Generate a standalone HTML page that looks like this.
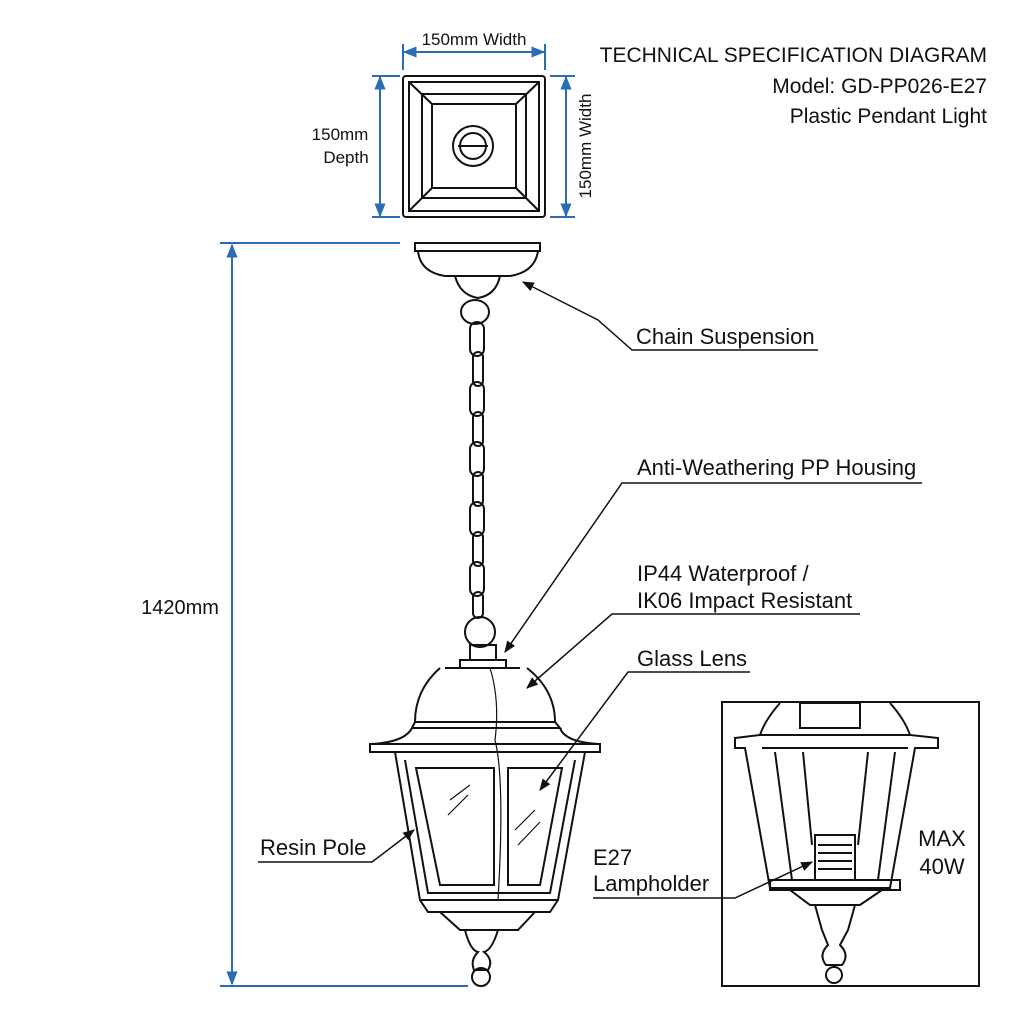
<!DOCTYPE html>
<html><head><meta charset="utf-8"><style>
body{margin:0;background:#fff}
svg{display:block}
text{font-family:"Liberation Sans",sans-serif;fill:#111}
</style></head><body>
<svg width="1024" height="1024" viewBox="0 0 1024 1024" xmlns="http://www.w3.org/2000/svg">
<defs>
<marker id="ab" viewBox="0 0 10 10" refX="9" refY="5" markerWidth="7" markerHeight="7" orient="auto-start-reverse"><path d="M0,1 L10,5 L0,9 z" fill="#2a6db5"/></marker>
<marker id="ak" viewBox="0 0 10 10" refX="9" refY="5" markerWidth="8" markerHeight="8" orient="auto"><path d="M0,1 L10,5 L0,9 z" fill="#111"/></marker>
</defs>
<!-- title -->
<text x="987" y="62" font-size="21" text-anchor="end">TECHNICAL SPECIFICATION DIAGRAM</text>
<text x="987" y="93" font-size="21" text-anchor="end">Model: GD-PP026-E27</text>
<text x="987" y="123" font-size="21" text-anchor="end">Plastic Pendant Light</text>

<!-- top plate -->
<g fill="none" stroke="#111" stroke-width="2">
<rect x="403" y="76" width="142" height="141" rx="3"/>
<rect x="409" y="82" width="130" height="129"/>
<rect x="422" y="94" width="104" height="104"/>
<rect x="432" y="104" width="84" height="84"/>
<path d="M409 82 L432 104 M539 82 L516 104 M409 211 L432 188 M539 211 L516 188"/>
<circle cx="473" cy="146" r="20"/><circle cx="473" cy="146" r="13"/>
<path d="M458 146 H488"/>
</g>
<!-- blue dims -->
<g stroke="#2a6db5" stroke-width="2" fill="none">
<line x1="404" y1="52" x2="544" y2="52" marker-start="url(#ab)" marker-end="url(#ab)"/>
<line x1="403" y1="44" x2="403" y2="70" /><line x1="545" y1="44" x2="545" y2="70"/>
<line x1="380" y1="77" x2="380" y2="216" marker-start="url(#ab)" marker-end="url(#ab)"/>
<line x1="372" y1="76" x2="400" y2="76"/><line x1="372" y1="217" x2="400" y2="217"/>
<line x1="566" y1="77" x2="566" y2="216" marker-start="url(#ab)" marker-end="url(#ab)"/>
<line x1="550" y1="76" x2="575" y2="76"/><line x1="550" y1="217" x2="575" y2="217"/>
<line x1="232" y1="245" x2="232" y2="984" marker-start="url(#ab)" marker-end="url(#ab)"/>
<line x1="220" y1="243" x2="400" y2="243"/><line x1="220" y1="986" x2="468" y2="986"/>
</g>
<text x="474" y="45" font-size="17" text-anchor="middle">150mm Width</text>
<text x="340" y="140" font-size="17" text-anchor="middle">150mm</text>
<text x="346" y="163" font-size="17" text-anchor="middle">Depth</text>
<text transform="translate(591,146) rotate(-90)" font-size="17" text-anchor="middle">150mm Width</text>
<text x="180" y="614" font-size="20" text-anchor="middle">1420mm</text>

<!-- canopy -->
<g fill="none" stroke="#111" stroke-width="2">
<rect x="415" y="243" width="125" height="8"/>
<path d="M418 251 Q420 272 445 276 L510 276 Q535 272 538 251"/>
<path d="M455 276 Q460 295 478 298 Q496 295 500 276"/>
<!-- chain -->
<ellipse cx="475" cy="312" rx="14" ry="12"/>
<g>
<rect x="470" y="322" width="14" height="34" rx="7"/><rect x="473" y="352" width="10" height="34" rx="5"/>
<rect x="470" y="382" width="14" height="34" rx="7"/><rect x="473" y="412" width="10" height="34" rx="5"/>
<rect x="470" y="442" width="14" height="34" rx="7"/><rect x="473" y="472" width="10" height="34" rx="5"/>
<rect x="470" y="502" width="14" height="34" rx="7"/><rect x="473" y="532" width="10" height="34" rx="5"/>
<rect x="470" y="562" width="14" height="34" rx="7"/><rect x="473" y="592" width="10" height="26" rx="5"/>
</g>
<circle cx="480" cy="632" r="15"/>
<rect x="470" y="645" width="26" height="15"/>
<rect x="460" y="660" width="46" height="8"/>
<path d="M445 668 H520 M440 668 Q415 690 415 722 L555 722 Q555 690 527 668"/>
<path d="M415 722 L412 728 L560 728 L555 722"/>
<path d="M412 728 Q405 742 372 744 L598 744 Q565 742 560 728"/>
<rect x="370" y="744" width="230" height="8"/>
<path d="M395 752 L420 900 L558 900 L585 752"/>
<path d="M405 760 L428 893 L550 893 L575 760"/>
<path d="M416 768 L440 885 L494 885 L494 768 Z"/>
<path d="M508 768 L508 885 L540 885 L562 768 Z"/>
<path d="M420 900 L428 912 L550 912 L558 900"/>
<path d="M440 912 L460 930 L518 930 L535 912"/>
<path d="M465 930 Q470 950 478 952 Q470 960 474 970 L488 970 Q494 960 484 952 Q492 950 498 930"/>
<circle cx="481" cy="977" r="9"/>
<path d="M450 800 L470 785 M448 815 L468 795 M515 830 L535 810 M518 845 L540 822" stroke-width="1.2"/>
<path d="M490 668 Q500 700 495 740 Q505 780 498 900" stroke-width="1.2"/>
</g>

<!-- labels -->
<g stroke="#111" stroke-width="1.5" fill="none">
<path d="M818 350 H632 L598 320 L523 282" marker-end="url(#ak)"/>
<path d="M922 483 H622 L505 652" marker-end="url(#ak)"/>
<path d="M860 614 H612 L527 688" marker-end="url(#ak)"/>
<path d="M750 672 H628 L540 790" marker-end="url(#ak)"/>
<path d="M258 862 H372 L414 830" marker-end="url(#ak)"/>
<path d="M593 898 H735 L812 862" marker-end="url(#ak)"/>
</g>
<text x="636" y="344" font-size="22">Chain Suspension</text>
<text x="637" y="475" font-size="22">Anti-Weathering PP Housing</text>
<text x="637" y="581" font-size="22">IP44 Waterproof /</text>
<text x="637" y="608" font-size="22">IK06 Impact Resistant</text>
<text x="637" y="666" font-size="22">Glass Lens</text>
<text x="260" y="855" font-size="22">Resin Pole</text>
<text x="593" y="865" font-size="22">E27</text>
<text x="593" y="891" font-size="22">Lampholder</text>

<!-- inset -->
<rect x="722" y="702" width="257" height="284" fill="none" stroke="#111" stroke-width="2"/>
<g fill="none" stroke="#111" stroke-width="2">
<path d="M780 703 Q765 720 760 735 L735 738 L735 748 L745 748 L770 888 L890 888 L915 748 L938 748 L938 738 L910 735 Q905 720 890 703"/>
<rect x="800" y="703" width="60" height="25"/>
<path d="M760 735 H910 M762 748 H908"/>
<path d="M775 752 L792 880 M895 752 L878 880 M803 752 L812 845 M868 752 L858 845"/>
<path d="M770 880 H900 V890 H770 Z"/>
<rect x="815" y="835" width="40" height="45"/>
<path d="M818 845 H852 M818 853 H852 M818 861 H852 M818 869 H852"/>
<path d="M790 890 L810 905 L860 905 L882 890"/>
<path d="M815 905 L822 930 L828 945 Q818 955 826 965 L842 965 Q850 955 840 945 L848 930 L855 905"/>
<circle cx="834" cy="975" r="8"/>
</g>
<text x="942" y="846" font-size="22" text-anchor="middle">MAX</text>
<text x="942" y="874" font-size="22" text-anchor="middle">40W</text>
</svg>
</body></html>
